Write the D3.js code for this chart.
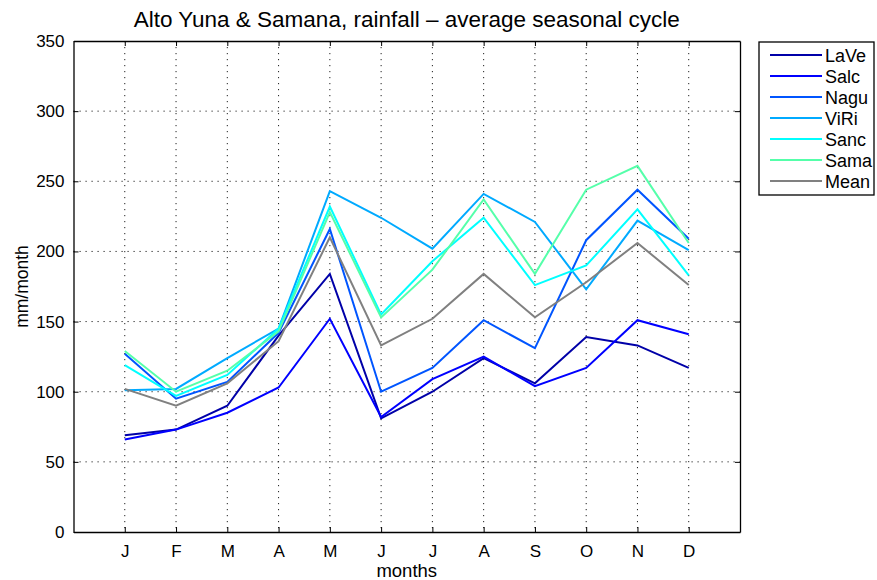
<!DOCTYPE html>
<html>
<head>
<meta charset="utf-8">
<script src="https://cdn.jsdelivr.net/npm/d3@7"></script>
<style>
  body { margin: 0; background: #fff; }
  svg text { font-family: "Liberation Sans", Arial, Helvetica, sans-serif; fill: #000; }
  .grid line { stroke: #222; stroke-dasharray: 1.2,4.8; stroke-width: 1; }
  .line { fill: none; stroke-width: 2; stroke-linejoin: miter; }
</style>
</head>
<body>
<div id="chart"></div>
<script>
// month labels
var months = ["J", "F", "M", "A", "M", "J", "J", "A", "S", "O", "N", "D"];
var yTicks = [0, 50, 100, 150, 200, 250, 300, 350];

// series (mm/month)
var seriesNames = ["LaVe", "Salc", "Nagu", "ViRi", "Sanc", "Sama", "Mean"];
var LaVe = [69, 73, 90, 140, 184, 81, 100, 124, 106, 139, 133, 117];
var Salc = [66, 73, 85, 103, 152, 82, 109, 125, 104, 117, 151, 141];
var Nagu = [127, 95, 107, 142, 216, 100, 117, 151, 131, 208, 244, 209];
var ViRi = [101, 102, 124, 145, 243, 224, 202, 241, 221, 173, 222, 201];
var Sanc = [119, 97, 112, 145, 232, 155, 193, 224, 176, 190, 230, 183];
var Sama = [129, 100, 115, 143, 228, 153, 187, 237, 184, 244, 261, 206];
var Mean = [102, 90, 106, 136, 210, 133, 152, 184, 153, 178, 206, 176];
var colors = ["#0000a8", "#0000ff", "#0055ff", "#00aaff", "#00ffff", "#55ffaa", "#808080"];

var allSeries = [LaVe, Salc, Nagu, ViRi, Sanc, Sama, Mean];

var margin = {top: 41, right: 137, bottom: 48, left: 73.5};
var W = 877, H = 580;
var width = W - margin.left - margin.right;
var height = H - margin.top - margin.bottom;

var svg = d3.select("#chart").append("svg")
    .attr("width", W)
    .attr("height", H);

var g = svg.append("g")
    .attr("transform", "translate(" + margin.left + "," + margin.top + ")");

var x = d3.scaleLinear().domain([0, 13]).range([0, width]);
var y = d3.scaleLinear().domain([0, 350]).range([height, 0]);

// grid
var grid = g.append("g").attr("class", "grid");
grid.selectAll(".gx").data(d3.range(1, 13)).enter()
    .append("line")
    .attr("x1", function(d) { return x(d); })
    .attr("x2", function(d) { return x(d); })
    .attr("y1", 0).attr("y2", height);
grid.selectAll(".gy").data(yTicks.slice(1, -1)).enter()
    .append("line")
    .attr("y1", function(d) { return y(d); })
    .attr("y2", function(d) { return y(d); })
    .attr("x1", 0).attr("x2", width);

// lines
var line = d3.line()
    .x(function(d, i) { return x(i + 1); })
    .y(function(d) { return y(d); });

g.selectAll(".line").data(allSeries).enter()
    .append("path")
    .attr("class", "line")
    .attr("d", line)
    .attr("stroke", function(d, i) { return colors[i]; });

// axes (MATLAB style, ticks inward on all sides)
var xAxis = d3.axisBottom(x)
    .tickValues(d3.range(1, 13))
    .tickFormat(function(d) { return months[d - 1]; })
    .tickSizeInner(-5).tickSizeOuter(0).tickPadding(13);
var yAxis = d3.axisLeft(y)
    .tickValues(yTicks)
    .tickSizeInner(-5).tickSizeOuter(0).tickPadding(9);

g.append("g")
    .attr("transform", "translate(0," + height + ")")
    .call(xAxis);
g.append("g").call(yAxis);

g.append("g").call(d3.axisTop(x).tickValues(d3.range(1, 13)).tickFormat("")
    .tickSizeInner(-5).tickSizeOuter(0));
g.append("g").attr("transform", "translate(" + width + ",0)")
    .call(d3.axisRight(y).tickValues(yTicks).tickFormat("")
    .tickSizeInner(-5).tickSizeOuter(0));

g.selectAll(".domain").attr("stroke", "#000").attr("stroke-width", 1.3);
g.selectAll(".tick line").attr("stroke", "#000");
g.selectAll(".tick text").attr("font-size", 17)
    .attr("font-family", "Liberation Sans, Arial, sans-serif");

// titles
svg.append("text")
    .attr("x", margin.left + width / 2)
    .attr("y", 27)
    .attr("text-anchor", "middle")
    .attr("font-size", 22.5)
    .text("Alto Yuna & Samana, rainfall \u2013 average seasonal cycle");

svg.append("text")
    .attr("x", margin.left + width / 2)
    .attr("y", 577)
    .attr("text-anchor", "middle")
    .attr("font-size", 18.5)
    .text("months");

svg.append("text")
    .attr("transform", "translate(28," + (margin.top + height / 2) + ") rotate(-90)")
    .attr("text-anchor", "middle")
    .attr("font-size", 17.5)
    .text("mm/month");

// legend
var legend = svg.append("g").attr("transform", "translate(759,42)");
legend.append("rect")
    .attr("width", 115).attr("height", 153)
    .attr("fill", "#fff").attr("stroke", "#000").attr("stroke-width", 1.3);

var item = legend.selectAll(".item").data(seriesNames).enter()
    .append("g")
    .attr("transform", function(d, i) { return "translate(0," + (13 + i * 21) + ")"; });
item.append("line")
    .attr("x1", 11).attr("x2", 63)
    .attr("stroke", function(d, i) { return colors[i]; })
    .attr("stroke-width", 2);
item.append("text")
    .attr("x", 66).attr("y", 6.5)
    .attr("font-size", 18)
    .text(function(d) { return d; });
</script>
</body>
</html>
